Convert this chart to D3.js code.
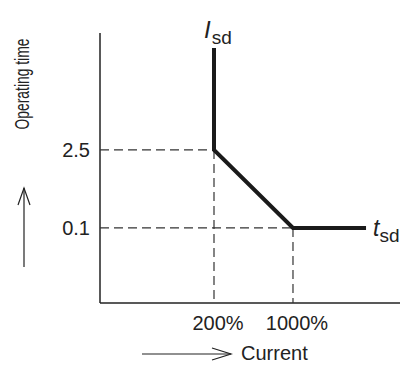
<!DOCTYPE html>
<html><head><meta charset="utf-8">
<script src="https://cdn.jsdelivr.net/npm/d3@7"></script>
<style>body{margin:0;background:#fff}text{font-family:"Liberation Sans",Arial,Helvetica,sans-serif;fill:#222}</style>
</head><body><svg id="c" width="400" height="365"></svg>
<script>
// data
const currentTicks = [200, 1000];
const currentTickLabels = ["200%", "1000%"];
const timeTicks = [2.5, 0.1];
const timeTickLabels = ["2.5", "0.1"];
const curveCurrent = [200, 200, 1000, 4430];
const curveTime = [168, 2.5, 0.1, 0.1];

const svg = d3.select("#c");
const x = d3.scaleLog().domain([19.6, 8850]).range([100, 400]);
const y = d3.scaleLog().domain([0.0045, 313]).range([303, 33]);
const ink = "#222";

// axes (plain lines, no ticks)
svg.append("line").attr("x1", x.range()[0]).attr("x2", x.range()[0])
  .attr("y1", y.range()[1]).attr("y2", y.range()[0]).attr("stroke", ink).attr("stroke-width", 1.5);
svg.append("line").attr("x1", x.range()[0]).attr("x2", x.range()[1])
  .attr("y1", y.range()[0]).attr("y2", y.range()[0]).attr("stroke", ink).attr("stroke-width", 1.5);

// dashed guides
const dash = "9,5";
timeTicks.forEach((t, i) => {
  const c = curveCurrent[i + 1];
  svg.append("line").attr("x1", x.range()[0]).attr("x2", x(c)).attr("y1", y(t)).attr("y2", y(t))
    .attr("stroke", "#333").attr("stroke-width", 1.2).attr("stroke-dasharray", dash);
});
currentTicks.forEach((c, i) => {
  const t = curveTime[i + 1];
  svg.append("line").attr("x1", x(c)).attr("x2", x(c)).attr("y1", y(t)).attr("y2", y.range()[0])
    .attr("stroke", "#333").attr("stroke-width", 1.2).attr("stroke-dasharray", dash);
});

// curve
const pts = curveCurrent.map((c, i) => [x(c), y(curveTime[i])]);
svg.append("path").attr("d", d3.line()(pts)).attr("fill", "none")
  .attr("stroke", "#1a1a1a").attr("stroke-width", 4).attr("stroke-linejoin", "miter");

// tick labels
timeTicks.forEach((t, i) => {
  svg.append("text").attr("x", 90).attr("y", y(t) + 7).attr("text-anchor", "end")
    .attr("font-size", 20).text(timeTickLabels[i]);
});
currentTicks.forEach((c, i) => {
  svg.append("text").attr("x", x(c) + 4).attr("y", 330).attr("text-anchor", "middle")
    .attr("font-size", 20).text(currentTickLabels[i]);
});

// curve labels
const isd = svg.append("text").attr("x", 204).attr("y", 38).attr("font-size", 24);
isd.append("tspan").attr("font-style", "italic").text("I");
isd.append("tspan").attr("font-size", 19).attr("dy", 6).attr("dx", 1).text("sd");
const tsd = svg.append("text").attr("x", 373).attr("y", 236).attr("font-size", 23);
tsd.append("tspan").attr("font-style", "italic").text("t");
tsd.append("tspan").attr("font-size", 19).attr("dy", 6).attr("dx", 0).text("sd");

// axis titles with arrows
svg.append("text").attr("transform", "translate(29,84) rotate(-90) scale(0.66,1)").attr("text-anchor", "middle")
  .attr("font-size", 21).text("Operating time");
svg.append("line").attr("x1", 24).attr("x2", 24).attr("y1", 267).attr("y2", 188).attr("stroke", ink).attr("stroke-width", 1.2);
svg.append("path").attr("d", "M18,205 L24,188 L30,205").attr("fill", "none").attr("stroke", ink).attr("stroke-width", 1.2);

svg.append("text").attr("x", 241).attr("y", 360).attr("font-size", 20).text("Current");
svg.append("line").attr("x1", 142).attr("x2", 231).attr("y1", 354).attr("y2", 354).attr("stroke", ink).attr("stroke-width", 1.2);
svg.append("path").attr("d", "M212,348 L231,354 L212,360").attr("fill", "none").attr("stroke", ink).attr("stroke-width", 1.2);
</script></body></html>
